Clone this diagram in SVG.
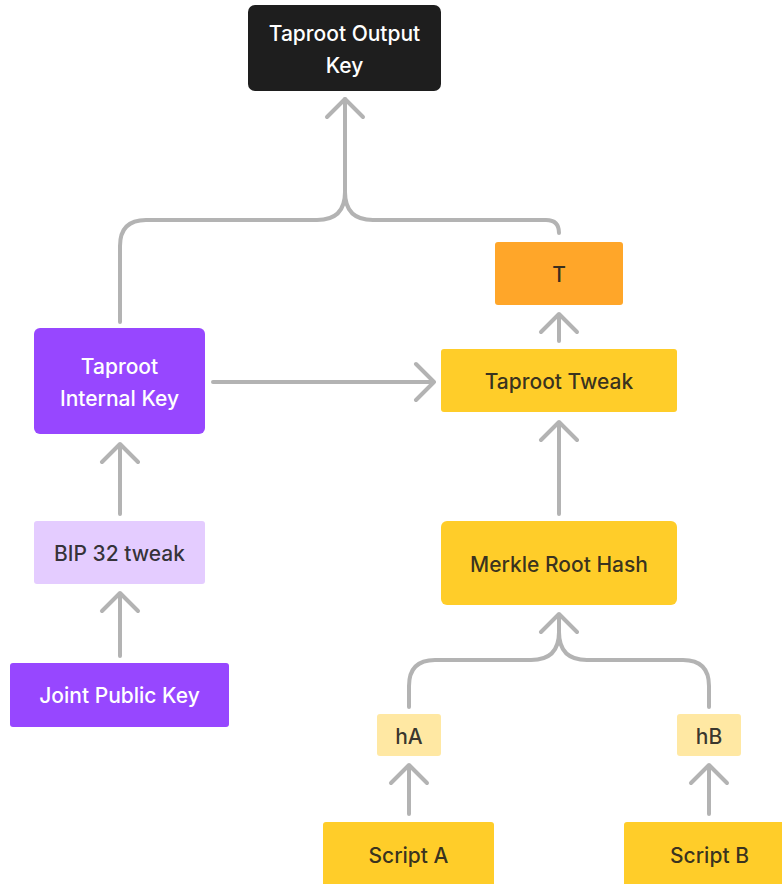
<svg xmlns="http://www.w3.org/2000/svg" width="782" height="884" viewBox="0 0 782 884">
<style>
.t{font-family:Inter,"Liberation Sans",sans-serif;font-size:21px;font-weight:500;text-anchor:middle;dominant-baseline:central}
.w{fill:#ffffff}
.d{fill:#1e1e1e;fill-opacity:0.9}
.c{fill:none;stroke:#b3b3b3;stroke-width:4;stroke-linecap:round;stroke-linejoin:round}
</style>
<rect width="782" height="884" fill="#ffffff"/>
<g id="connectors">
<path class="c" d="M120,322 V246 Q120,220 146,220 H317 Q345,220 345,192 V99"/>
<path class="c" d="M559,233 Q559,220 546,220 H373 Q345,220 345,192"/>
<path class="c" d="M327,117 L345,99 L363,117"/>
<path class="c" d="M213,382 H434 M416,364 L434,382 L416,400"/>
<path class="c" d="M559,341 V314 M541,332 L559,314 L577,332"/>
<path class="c" d="M559,514 V422 M541,440 L559,422 L577,440"/>
<path class="c" d="M120,514 V444 M102,462 L120,444 L138,462"/>
<path class="c" d="M120,656 V593 M102,611 L120,593 L138,611"/>
<path class="c" d="M409,707 V686 Q409,660 435,660 H531 Q559,660 559,632 V614 M541,632 L559,614 L577,632"/>
<path class="c" d="M709,707 V686 Q709,660 683,660 H587 Q559,660 559,632"/>
<path class="c" d="M409,814 V765 M391,783 L409,765 L427,783"/>
<path class="c" d="M709,814 V765 M691,783 L709,765 L727,783"/>
</g>
<g id="taproot-output-key">
<rect x="248" y="5" width="193" height="86" rx="7" fill="#1e1e1e"/>
<text class="t w" x="344.5" y="33">Taproot Output</text>
<text class="t w" x="344.5" y="65">Key</text>
</g>
<g id="t">
<rect x="495" y="242" width="128" height="63" rx="3" fill="#ffa629"/>
<text class="t d" x="559" y="274">T</text>
</g>
<g id="taproot-internal-key">
<rect x="34" y="328" width="171" height="106" rx="6" fill="#9747ff"/>
<text class="t w" x="119.5" y="366">Taproot</text>
<text class="t w" x="119.5" y="398">Internal Key</text>
</g>
<g id="taproot-tweak">
<rect x="441" y="349" width="236" height="63" rx="3" fill="#ffcd29"/>
<text class="t d" x="559" y="381">Taproot Tweak</text>
</g>
<g id="bip32-tweak">
<rect x="34" y="521" width="171" height="63" rx="3" fill="#e4ccff"/>
<text class="t d" x="119.5" y="553">BIP 32 tweak</text>
</g>
<g id="merkle-root-hash">
<rect x="441" y="521" width="236" height="84" rx="6" fill="#ffcd29"/>
<text class="t d" x="559" y="564">Merkle Root Hash</text>
</g>
<g id="joint-public-key">
<rect x="10" y="663" width="219" height="64" rx="3" fill="#9747ff"/>
<text class="t w" x="119.5" y="695">Joint Public Key</text>
</g>
<g id="hA">
<rect x="377" y="714" width="64" height="42" rx="3" fill="#ffe8a3"/>
<text class="t d" x="409" y="736">hA</text>
</g>
<g id="hB">
<rect x="677" y="714" width="64" height="42" rx="3" fill="#ffe8a3"/>
<text class="t d" x="709" y="736">hB</text>
</g>
<g id="script-a">
<rect x="323" y="822" width="171" height="70" rx="3" fill="#ffcd29"/>
<text class="t d" x="408.5" y="855">Script A</text>
</g>
<g id="script-b">
<rect x="624" y="822" width="171" height="70" rx="3" fill="#ffcd29"/>
<text class="t d" x="709.5" y="855">Script B</text>
</g>
</svg>
